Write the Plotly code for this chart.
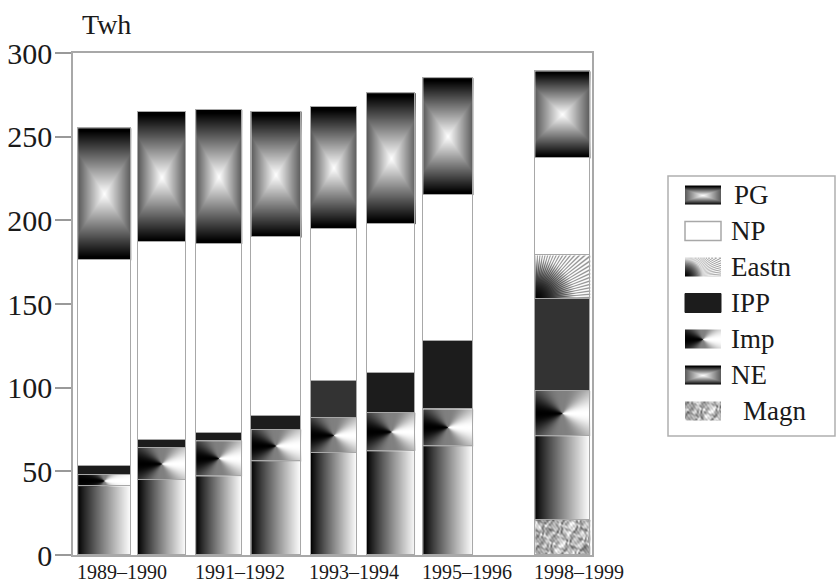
import numpy as np
import plotly.graph_objects as go

# ---- data (TWh) -------------------------------------------------------------
SEASONS = ["1989–1990", "1990–1991", "1991–1992", "1992–1993",
           "1993–1994", "1994–1995", "1995–1996", "1998–1999"]
X_POS = [0, 1, 2, 3, 4, 5, 6, 8]
X_LABELS = ["1989–1990", "", "1991–1992", "", "1993–1994", "", "1995–1996", "1998–1999"]

MAGN = [None, None, None, None, None, None, None, 21]
NE = [41, 45, 47, 56, 61, 62, 65, 50]
IMP = [7, 19, 21, 19, 21, 23, 22, 27]
IPP = [5, 5, 5, 8, 22, 24, 41, 55]
EASTN = [None, None, None, None, None, None, None, 26]
NP = [123, 118, 113, 107, 91, 89, 87, 58]
PG = [79, 78, 80, 75, 73, 78, 70, 52]

Y_TICKS = [0, 50, 100, 150, 200, 250, 300]

# stacking order, bottom to top, with the fill used for each source
SERIES = [
    ("Magn", MAGN, "marble"),
    ("NE", NE, "hgrad"),
    ("Imp", IMP, "cone"),
    ("IPP", IPP, "solid"),
    ("Eastn", EASTN, "rays"),
    ("NP", NP, "white"),
    ("PG", PG, "box"),
]
LEGEND_FILL = {"PG": "box", "NP": "white", "Eastn": "rays", "IPP": "solid",
               "Imp": "cone", "NE": "box", "Magn": "marble"}

# ---- layout geometry (pixels) -------------------------------------------------
FIG_W, FIG_H = 837, 586
PLOT_L, PLOT_R, PLOT_T, PLOT_B = 73, 592, 53, 555
X_RANGE = (-0.55, 8.51)
Y_RANGE = (0, 300)
BAR_WIDTHS = [0.92, 0.84, 0.80, 0.87, 0.80, 0.85, 0.87, 0.96]
IPP_COLORS = ["#1c1c1c", "#1c1c1c", "#1c1c1c", "#1c1c1c",
              "#333333", "#1c1c1c", "#1c1c1c", "#333333"]
EDGE = "#a8a8a8"
TEXT = "#1a1a1a"
SERIF = "Liberation Serif"

PX_X = (PLOT_R - PLOT_L) / (X_RANGE[1] - X_RANGE[0])
PX_Y = (PLOT_B - PLOT_T) / (Y_RANGE[1] - Y_RANGE[0])

# legend box (pixels from the top-left of the page)
LEG_L, LEG_R, LEG_T, LEG_B = 668, 836, 176, 436
GRAY = [[0, "#000000"], [1, "#ffffff"]]
SS = 3  # supersampling factor for the shading grids


def shade(kind, nx, ny, w_px, h_px):
    """Gray level (0 black .. 1 white) for a fill pattern on an nx*ny grid."""
    fx, fy = nx * SS, ny * SS
    u = (np.arange(fx) + 0.5) / fx
    v = (np.arange(fy) + 0.5) / fy
    U, V = np.meshgrid(u, v)
    X, Y = U * w_px, V * h_px
    if kind == "hgrad":
        z = U ** 0.9
    elif kind == "box":
        a = np.abs(2 * U - 1) * 0.62
        b = np.abs(2 * V - 1)
        z = np.clip(1 - np.maximum(a, b) * 1.05, 0, 1)
    elif kind == "cone":
        dx, dy = X - w_px / 2, Y - h_px / 2
        c = dx / (np.hypot(dx, dy) + 1e-9)
        z = 0.5 + 0.5 * np.sign(c) * np.abs(c) ** 3
    elif kind == "rays":
        r = np.hypot(X, Y)
        th = np.arctan2(Y, X)
        stripe = 0.5 + 0.5 * np.cos(110 * th)
        t = np.clip(r / (0.95 * min(w_px, h_px)), 0, 1) ** 1.4
        contrast = np.clip((r - 8) / 22, 0, 1)
        z = t * (0.6 + 0.3 * contrast * (2 * stripe - 1) + 0.25 * t)
        z = np.clip(z, 0, 1)
    elif kind == "marble":
        q = np.sin(0.31 * X + 0.17 * Y) + np.sin(0.23 * Y - 0.41 * X + 1.3)
        z = (0.7
             + 0.12 * np.sin(0.6 * X + 1.8 * q)
             + 0.10 * np.sin(0.7 * Y + 1.5 * np.sin(0.37 * X + 0.5 * Y))
             + 0.07 * np.sin(1.1 * X - 0.8 * Y + 1.2 * q)
             + 0.05 * np.sin(1.9 * X + 1.3 * Y))
        z = np.clip(z, 0, 1)
    else:
        z = np.ones((fy, fx))
    return z.reshape(ny, SS, nx, SS).mean(axis=(1, 3))


def patch(kind, x0, x1, y0, y1, w_px, h_px, xa="x", ya="y"):
    nx = max(4, int(round(w_px)))
    ny = max(4, int(round(h_px)))
    z = shade(kind, nx, ny, w_px, h_px)
    return go.Heatmap(
        x=np.linspace(x0, x1, nx + 1), y=np.linspace(y0, y1, ny + 1), z=z,
        zmin=0, zmax=1, colorscale=GRAY, showscale=False, zsmooth=False,
        hoverinfo="skip", xaxis=xa, yaxis=ya,
    )


fig = go.Figure()

# shaded fills of every stacked segment
base = np.zeros(len(SEASONS))
for name, vals, kind in SERIES:
    v = np.array([0 if a is None else a for a in vals], dtype=float)
    if kind not in ("solid", "white"):
        for i, xp in enumerate(X_POS):
            if v[i] <= 0:
                continue
            half = BAR_WIDTHS[i] / 2
            fig.add_trace(patch(kind, xp - half, xp + half, base[i], base[i] + v[i],
                                BAR_WIDTHS[i] * PX_X, v[i] * PX_Y))
    base += v

# stacked bars: outlines, solid and blank segments
for name, vals, kind in SERIES:
    if kind == "solid":
        fill = IPP_COLORS
    elif kind == "white":
        fill = "#ffffff"
    else:
        fill = "rgba(0,0,0,0)"
    fig.add_trace(go.Bar(
        x=X_POS, y=vals, width=BAR_WIDTHS, name=name, showlegend=False,
        marker=dict(color=fill, line=dict(color=EDGE, width=1.5)),
        customdata=SEASONS,
        hovertemplate="%{customdata}<br>" + name + ": %{y} TWh<extra></extra>",
    ))

# legend drawn on its own pixel-scaled axes
legend_items = [name for name, _, _ in SERIES][::-1]
SW_L, SW_R, SW_H = 685, 721, 19
ROW0, ROW_STEP = 195, 36
for k, name in enumerate(legend_items):
    cy = ROW0 + k * ROW_STEP
    kind = LEGEND_FILL[name]
    y0, y1 = FIG_H - (cy + SW_H / 2), FIG_H - (cy - SW_H / 2)
    if kind == "solid":
        fig.add_shape(type="rect", xref="x2", yref="y2", x0=SW_L, x1=SW_R, y0=y0, y1=y1,
                      fillcolor="#1c1c1c", line=dict(color="#1c1c1c", width=1))
    elif kind == "white":
        fig.add_shape(type="rect", xref="x2", yref="y2", x0=SW_L, x1=SW_R, y0=y0, y1=y1,
                      fillcolor="#ffffff", line=dict(color=EDGE, width=1.5))
    else:
        fig.add_trace(patch(kind, SW_L, SW_R, y0, y1, SW_R - SW_L, SW_H, "x2", "y2"))
    shift = 12 if name == "Magn" else (3 if name == "PG" else 0)
    fig.add_annotation(x=729, y=FIG_H - cy, xref="x2", yref="y2", text=name,
                       showarrow=False, xanchor="left", yanchor="middle", xshift=shift,
                       font=dict(family=SERIF, size=27, color=TEXT))

fig.add_shape(type="rect", xref="paper", yref="paper",
              x0=LEG_L / FIG_W, x1=(LEG_R - 1) / FIG_W,
              y0=1 - LEG_B / FIG_H, y1=1 - LEG_T / FIG_H,
              line=dict(color="#b0b0b0", width=1.5), fillcolor="rgba(0,0,0,0)")

# season labels, left-aligned under their bars
for i, (xp, lab) in enumerate(zip(X_POS, X_LABELS)):
    if not lab:
        continue
    fig.add_annotation(x=xp - BAR_WIDTHS[i] / 2 - 0.06, y=1 - 572 / FIG_H,
                       xref="x", yref="paper", text=lab, showarrow=False,
                       xanchor="left", yanchor="middle",
                       font=dict(family=SERIF, size=20, color=TEXT))

fig.add_annotation(x=80 / FIG_W, y=1 - 25 / FIG_H, xref="paper", yref="paper",
                   text="Twh", showarrow=False, xanchor="left", yanchor="middle",
                   font=dict(family=SERIF, size=28, color=TEXT))

fig.update_layout(
    width=FIG_W, height=FIG_H,
    margin=dict(l=0, r=0, t=0, b=0, autoexpand=False),
    paper_bgcolor="white", plot_bgcolor="white",
    barmode="stack", bargap=0,
    showlegend=False,
    xaxis=dict(domain=[PLOT_L / FIG_W, PLOT_R / FIG_W], range=list(X_RANGE),
               showline=True, linecolor=EDGE, linewidth=1.5, mirror=True,
               showticklabels=False, ticks="", showgrid=False, zeroline=False,
               fixedrange=True, automargin=False),
    yaxis=dict(domain=[1 - PLOT_B / FIG_H, 1 - PLOT_T / FIG_H], range=list(Y_RANGE),
               tickvals=Y_TICKS, ticks="outside", ticklen=16, tickwidth=1.5,
               tickcolor="#999999", showline=True, linecolor=EDGE, linewidth=1.5,
               mirror=True, showgrid=False, zeroline=False, automargin=False,
               ticklabelstandoff=-3,
               tickfont=dict(family=SERIF, size=30, color=TEXT), fixedrange=True),
    xaxis2=dict(domain=[LEG_L / FIG_W, LEG_R / FIG_W], range=[LEG_L, LEG_R],
                visible=False, fixedrange=True, anchor="y2", automargin=False),
    yaxis2=dict(domain=[1 - LEG_B / FIG_H, 1 - LEG_T / FIG_H],
                range=[FIG_H - LEG_B, FIG_H - LEG_T],
                visible=False, fixedrange=True, anchor="x2", automargin=False),
)

fig.write_html("out.html")
